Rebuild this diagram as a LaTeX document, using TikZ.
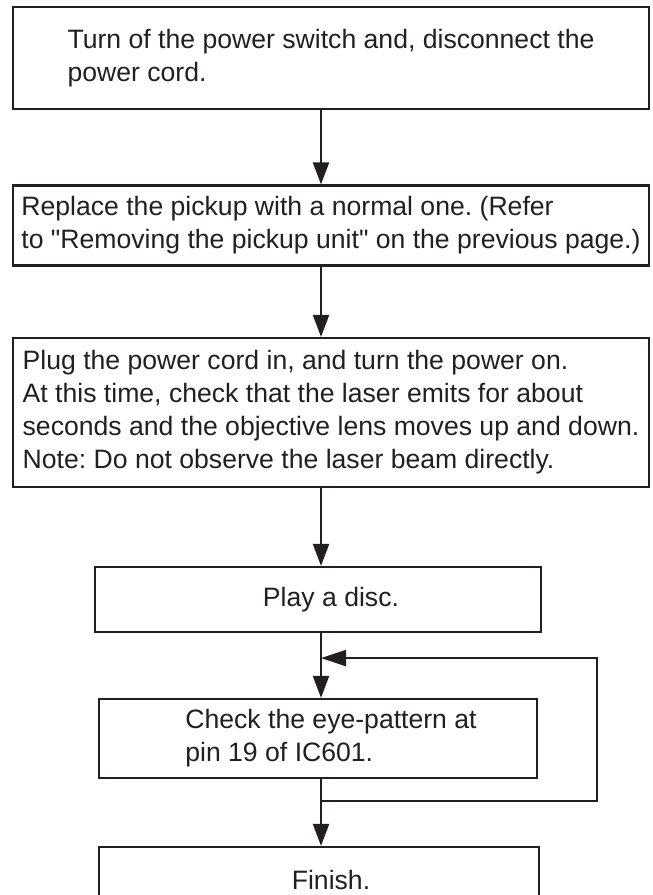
\documentclass[tikz,border=0pt]{standalone}
\usepackage{fontspec}
\setmainfont{Liberation Sans}
\usepackage{tikz}
\usetikzlibrary{calc}
\usetikzlibrary{arrows.meta}
\definecolor{ink}{HTML}{231F20}
\frenchspacing

\begin{document}
\begin{tikzpicture}[x=1pt,y=-1pt,
    font=\fontsize{26.6}{33}\selectfont,
    line width=2.2pt,
    stepn/.style={draw=ink,text=ink,align=left,inner sep=0pt},
    flown/.style={draw=ink,-{Triangle[length=22pt,width=16pt]}}]
  \useasboundingbox (0,0) rectangle (653,895);
  \clip (0,0) rectangle (653,895);
  \coordinate (spine) at (321,0);
  \node[stepn,minimum width=636pt,minimum height=102pt] (turnoff) at (331,58)
    {Turn of the power switch and, disconnect the\\power cord.};
  \node[stepn,minimum width=636pt,minimum height=80pt] (replace) at (331,225.5)
    {Replace the pickup with a normal one. (Refer\\to \textquotedbl Removing the pickup unit\textquotedbl{} on the previous page.)};
  \node[stepn,minimum width=636pt,minimum height=149pt] (plugin) at (331,412.5)
    {Plug the power cord in, and turn the power on.\\At this time, check that the laser emits for about\\seconds and the objective lens moves up and down.\\Note: Do not observe the laser beam directly.};
  \node[stepn,minimum width=446pt,minimum height=65pt] (play) at (318,599.5)
    {\hspace*{26pt}Play a disc.};
  \node[stepn,minimum width=438pt,minimum height=79pt] (check) at (318,738.5)
    {\hspace*{26pt}Check the eye-pattern at\\\hspace*{26pt}pin 19 of IC601.};
  \node[stepn,minimum width=440pt,minimum height=65pt] (finish) at (319,879.5)
    {\hspace*{24pt}Finish.};
  % main line
  \draw[flown] (turnoff.south -| spine) -- (replace.north -| spine);
  \draw[flown] (replace.south -| spine) -- (plugin.north -| spine);
  \draw[flown] (plugin.south -| spine) -- (play.north -| spine);
  \draw[flown] (play.south -| spine) -- (check.north -| spine);
  \draw[flown] (check.south -| spine) -- (finish.north -| spine);
  % repeat loop
  \coordinate (split) at ($(check.south -| spine)+(0,22)$);
  \coordinate (join) at ($(play.south -| spine)+(0,25)$);
  \draw[flown,-{Triangle[length=25pt,width=16pt]}] (split) -- ++(276,0) |- (join);
\end{tikzpicture}
\end{document}
